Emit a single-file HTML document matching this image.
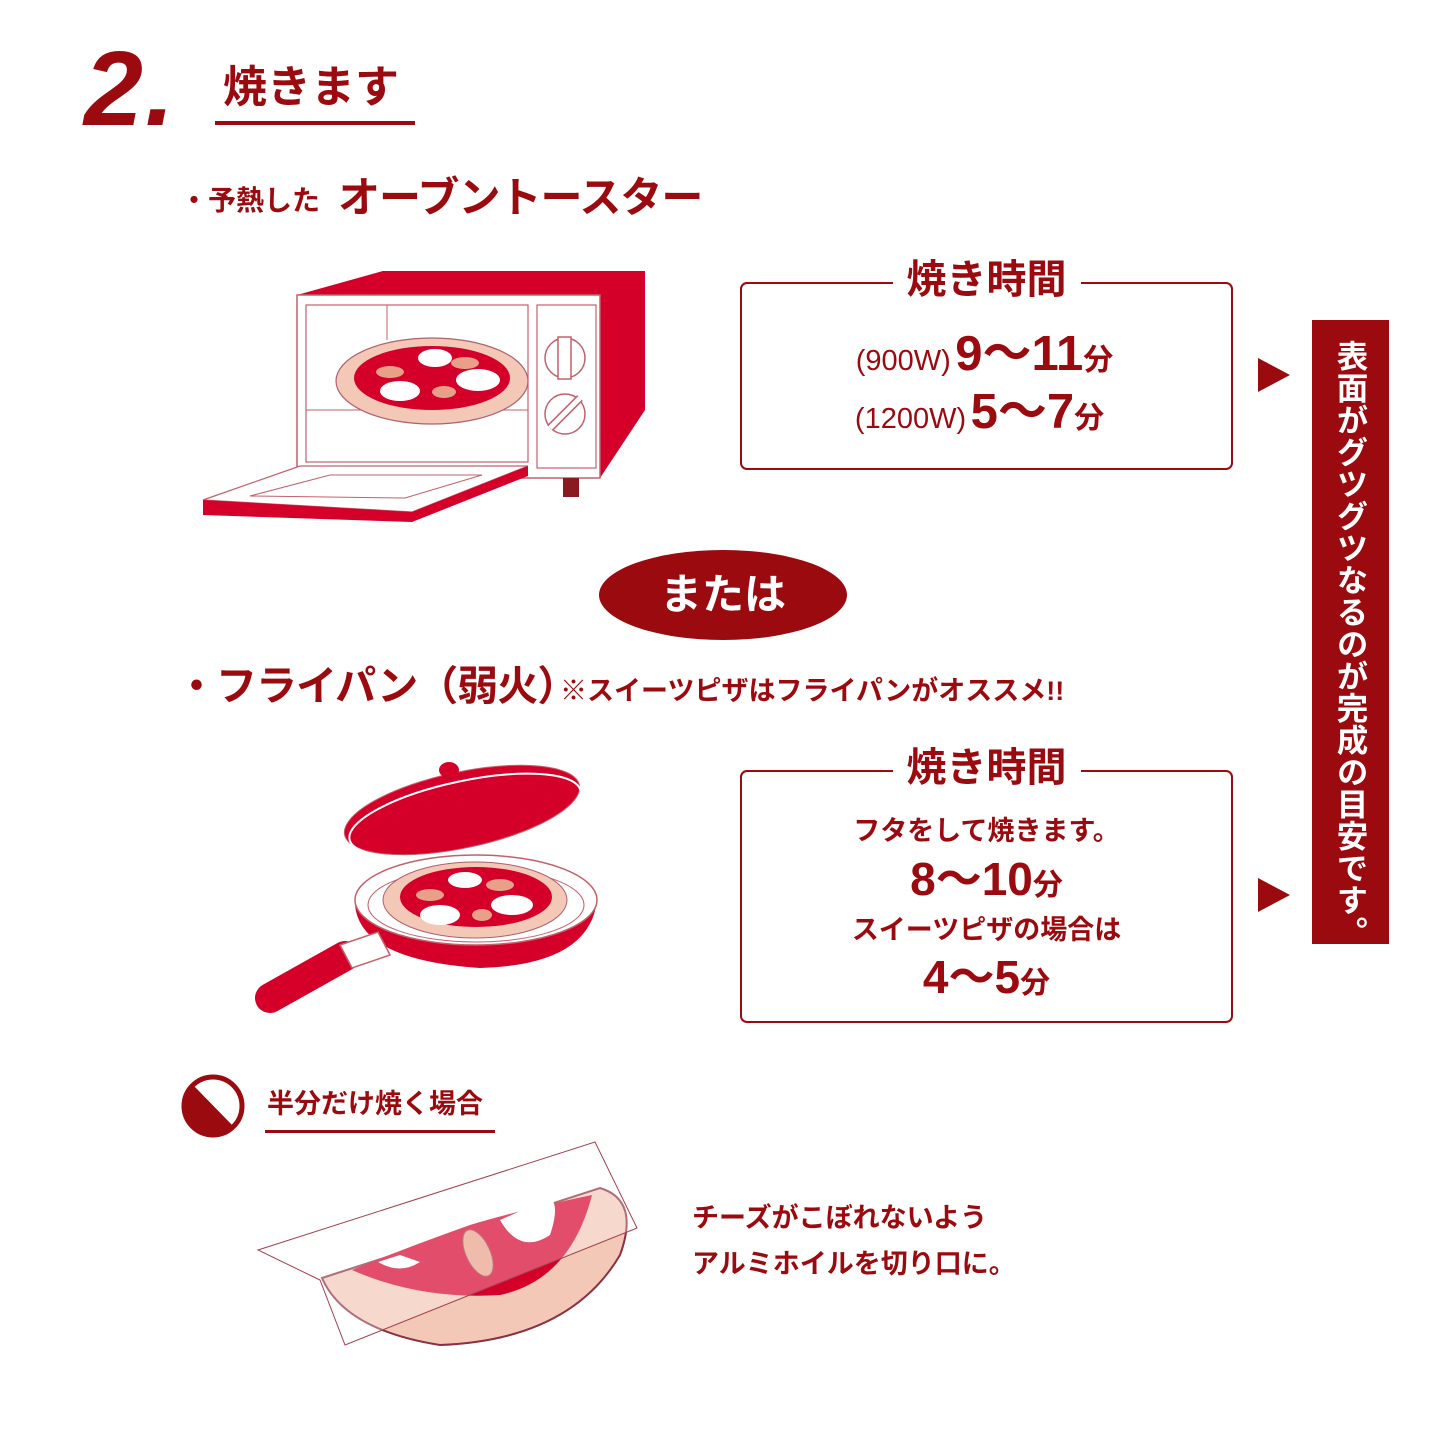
<!DOCTYPE html>
<html><head><meta charset="utf-8"><style>
body{margin:0;width:1445px;height:1445px;background:#fff;position:relative;overflow:hidden;font-family:"Liberation Sans","Noto Sans CJK JP",sans-serif;color:#9a0a0e;font-weight:bold}
.a{position:absolute;white-space:nowrap;line-height:1}
.box{position:absolute;border:2.5px solid #9a0a0e;border-radius:7px;box-sizing:border-box}
.tt{position:absolute;left:50%;transform:translateX(-50%);background:#fff;padding:0 14px;font-size:40px;line-height:1}
.c{position:absolute;left:0;right:0;text-align:center;white-space:nowrap;line-height:1}
svg{position:absolute;left:0;top:0}
</style></head><body>
<svg width="1445" height="1445" viewBox="0 0 1445 1445">
<polygon points="297,295 383,271 645,271 645,410 600,478 600,295" fill="#d5002a"/>
<rect x="297" y="295" width="303" height="183" fill="#fff" stroke="#c4606a" stroke-width="1.5"/>
<rect x="306" y="305" width="222" height="157" fill="#fff" stroke="#c4606a" stroke-width="1.2"/>
<line x1="387" y1="305" x2="387" y2="340" stroke="#c4606a"/>
<line x1="306" y1="410" x2="528" y2="410" stroke="#c4606a"/>
<rect x="537" y="305" width="59" height="163" fill="#fff" stroke="#c4606a" stroke-width="1.2"/>
<circle cx="565" cy="358" r="20" fill="none" stroke="#c4606a" stroke-width="1.5"/>
<rect x="558" y="337" width="13" height="42" fill="#fff" stroke="#c4606a" stroke-width="1.5"/>
<circle cx="565" cy="414" r="20" fill="none" stroke="#c4606a" stroke-width="1.5"/>
<line x1="550" y1="428" x2="580" y2="398" stroke="#c4606a" stroke-width="8"/><line x1="550" y1="428" x2="580" y2="398" stroke="#fff" stroke-width="5"/>
<rect x="563" y="478" width="16" height="19" fill="#8a1a22"/>
<polygon points="203,500 300,466 528,466 412,512" fill="#fff" stroke="#c4606a" stroke-width="1.2"/>
<polygon points="250,496 330,475 482,475 405,498" fill="none" stroke="#c4606a" stroke-width="1"/>
<polygon points="203,500 412,512 528,466 528,476 412,522 203,515" fill="#d5002a"/>
<ellipse cx="432" cy="381" rx="96" ry="43" fill="#f3c8b6" stroke="#b06070" stroke-width="1.2"/>
<ellipse cx="432" cy="378" rx="78" ry="32" fill="#d5002a"/>
<ellipse cx="400" cy="391" rx="20" ry="10" fill="#fff"/><ellipse cx="478" cy="380" rx="22" ry="11" fill="#fff"/><ellipse cx="435" cy="358" rx="17" ry="9" fill="#fff"/>
<ellipse cx="390" cy="372" rx="14" ry="6" fill="#e8a088"/><ellipse cx="465" cy="363" rx="14" ry="6" fill="#e8a088"/><ellipse cx="444" cy="392" rx="12" ry="6" fill="#e8a088"/>
<ellipse cx="462" cy="810" rx="120" ry="38" transform="rotate(-12 462 810)" fill="#d5002a" stroke="#c4606a"/>
<ellipse cx="465" cy="815" rx="118" ry="34" transform="rotate(-12 465 815)" fill="none" stroke="#fff" stroke-width="2"/>
<ellipse cx="449" cy="770" rx="10" ry="8" fill="#d5002a"/>
<path d="M355 905 Q360 960 480 968 Q590 965 597 900 Z" fill="#d5002a"/>
<ellipse cx="476" cy="900" rx="121" ry="45" fill="#fff" stroke="#c4606a" stroke-width="1.5"/>
<ellipse cx="476" cy="905" rx="108" ry="37" fill="#fff" stroke="#c4606a"/>
<ellipse cx="475" cy="900" rx="92" ry="38" fill="#f3c8b6" stroke="#b06070"/>
<ellipse cx="476" cy="897" rx="76" ry="30" fill="#d5002a"/>
<ellipse cx="440" cy="915" rx="20" ry="10" fill="#fff"/><ellipse cx="512" cy="905" rx="21" ry="10" fill="#fff"/><ellipse cx="465" cy="880" rx="17" ry="8" fill="#fff"/>
<ellipse cx="430" cy="895" rx="14" ry="6" fill="#e8a088"/><ellipse cx="500" cy="885" rx="14" ry="6" fill="#e8a088"/><ellipse cx="482" cy="915" rx="10" ry="6" fill="#e8a088"/>
<line x1="270" y1="998" x2="345" y2="956" stroke="#d5002a" stroke-width="30" stroke-linecap="round"/>
<polygon points="340,945 378,932 390,955 352,968" fill="#fff" stroke="#c4606a" stroke-width="1.5"/>
<circle cx="213" cy="1106" r="29" fill="#fff" stroke="#9a0a0e" stroke-width="5"/>
<path d="M193 1085 L234 1127 A29 29 0 0 1 193 1085 Z" fill="#9a0a0e"/>
<path d="M322 1278 Q345 1330 440 1345 Q570 1340 620 1255 Q640 1200 600 1188 Z" fill="#f3c8b6" stroke="#8a3040" stroke-width="2"/>
<path d="M352 1270 Q420 1300 500 1295 Q570 1280 592 1195 Q520 1210 470 1225 Q400 1250 352 1270 Z" fill="#d5002a"/>
<path d="M378 1262 Q400 1275 420 1262 L400 1255Z" fill="#fff"/>
<path d="M500 1220 Q520 1255 550 1235 Q560 1205 550 1198Z" fill="#fff"/>
<ellipse cx="478" cy="1253" rx="12" ry="25" transform="rotate(-25 478 1253)" fill="#e8a088" stroke="#a04050"/>
<polygon points="258,1250 595,1142 637,1228 345,1345 320,1280" fill="#fff" fill-opacity="0.3" stroke="#a04050" stroke-width="1"/>
<polygon points="1258,358 1290,375 1258,392" fill="#9a0a0e"/>
<polygon points="1258,878 1290,895 1258,912" fill="#9a0a0e"/>
<ellipse cx="723" cy="595" rx="124" ry="45" fill="#9a0a0e"/>
</svg>
<div class="a" style="left:84px;top:36px;font-size:106px;font-style:italic;letter-spacing:2px">2.</div>
<div class="a" style="left:223px;top:66px;font-size:44px">焼きます</div>
<div style="position:absolute;left:215px;top:121px;width:200px;height:4px;background:#9a0a0e"></div>
<div class="a" style="left:180px;top:187px;font-size:28px">・予熱した</div>
<div class="a" style="left:338px;top:177px;font-size:42px;letter-spacing:-1px">オーブントースター</div>
<div class="box" style="left:740px;top:282px;width:493px;height:188px">
<div class="tt" style="top:-24px">焼き時間</div>
<div class="c" style="top:46px;left:-4px"><span style="font-size:29px;font-weight:normal">(900W)</span> <span style="font-size:49px">9〜11</span><span style="font-size:30px">分</span></div>
<div class="c" style="top:104px;left:-14px"><span style="font-size:29px;font-weight:normal">(1200W)</span> <span style="font-size:49px">5〜7</span><span style="font-size:30px">分</span></div>
</div>
<div class="a" style="left:599px;top:574px;width:248px;text-align:center;font-size:42px;color:#fff">または</div>
<div class="a" style="left:176px;top:666px;font-size:41px;letter-spacing:-1px">・フライパン（弱火）</div>
<div class="a" style="left:560px;top:678px;font-size:27px">※スイーツピザはフライパンがオススメ!!</div>
<div class="box" style="left:740px;top:770px;width:493px;height:253px">
<div class="tt" style="top:-24px">焼き時間</div>
<div class="c" style="top:46px;font-size:27px">フタをして焼きます。</div>
<div class="c" style="top:84px;font-size:46px">8〜10<span style="font-size:30px">分</span></div>
<div class="c" style="top:145px;font-size:27px">スイーツピザの場合は</div>
<div class="c" style="top:182px;font-size:46px">4〜5<span style="font-size:30px">分</span></div>
</div>
<div style="position:absolute;left:1312px;top:320px;width:77px;height:624px;background:#9a0a0e"></div>
<div class="a" style="left:1334px;top:340px;writing-mode:vertical-rl;font-size:31.5px;color:#fff;line-height:1;letter-spacing:0.5px">表面がグツグツなるのが完成の目安です。</div>
<div class="a" style="left:267px;top:1091px;font-size:27px">半分だけ焼く場合</div>
<div style="position:absolute;left:265px;top:1130px;width:230px;height:3px;background:#9a0a0e"></div>
<div class="a" style="left:692px;top:1205px;font-size:27px">チーズがこぼれないよう</div>
<div class="a" style="left:692px;top:1251px;font-size:27px">アルミホイルを切り口に。</div>
</body></html>
